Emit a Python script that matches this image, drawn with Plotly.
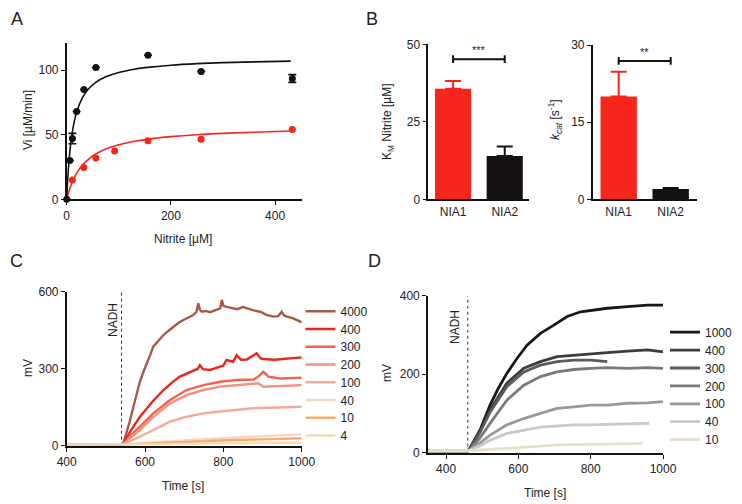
import plotly.graph_objects as go

# page body margin in the viewer offsets the figure by 8px; compensate
PAGE_W, PAGE_H = 742, 504
OFF = 8
W, H = PAGE_W - OFF, PAGE_H - OFF

# ---------------- Panel A data ----------------
a_black_x = [0, 6, 11, 19, 33, 56, 156, 258, 433]
a_black_y = [0, 30, 47, 68, 85, 102, 111.5, 99, 93.5]
a_black_err = [0, 0, 4, 0, 0, 0, 0, 0, 3]
a_red_x = [11, 33, 56, 92, 156, 258, 433]
a_red_y = [15, 24.7, 32, 37.3, 45.3, 46.4, 54]
a_fit_black_x = [0, 2, 5, 10, 15, 20, 30, 40, 55, 75, 100, 130, 160, 200, 250, 300, 360, 430]
a_fit_black_y = [0, 15.7, 32.4, 50, 61.1, 68.8, 78.6, 84.6, 90.3, 94.8, 98.2, 100.7, 102.3, 103.8, 105, 105.8, 106.4, 107]
a_fit_red_x = [0, 5, 10, 20, 30, 45, 60, 80, 100, 130, 160, 200, 250, 300, 360, 430]
a_fit_red_y = [0, 7.1, 12.7, 20.7, 26.3, 32.1, 36, 39.7, 42.2, 44.9, 46.8, 48.5, 50, 51, 51.9, 52.9]

# ---------------- Panel B data ----------------
b_cats = ["NIA1", "NIA2"]
b_km = [35.7, 14.0]
b_km_err = [2.5, 3.0]
b_kcat = [20.0, 2.0]
b_kcat_err = [4.8, 0.2]
b_km_sig = 45.2
b_kcat_sig = 26.9
b_km_sig_text = "***"
b_kcat_sig_text = "**"

# ---------------- Panel C data ----------------
c_labels = ["4000", "400", "300", "200", "100", "40", "10", "4"]
c_t = [
    [400, 538, 545, 555, 562, 570, 579, 587, 596, 605, 613, 621, 634, 647, 660, 672, 685, 698, 710, 723, 731, 736, 740, 745, 755, 766, 780, 792, 796, 800, 809, 820, 835, 850, 860, 875, 894, 910, 928, 940, 949, 955, 962, 975, 990, 1000],
    [400, 540, 545, 562, 587, 604, 621, 647, 668, 689, 715, 735, 740, 748, 766, 791, 800, 808, 825, 834, 845, 860, 885, 895, 902, 930, 962, 1000],
    [400, 540, 545, 562, 587, 621, 664, 706, 749, 791, 834, 877, 889, 902, 915, 945, 1000],
    [400, 540, 545, 562, 587, 621, 664, 706, 749, 791, 834, 877, 889, 902, 945, 1000],
    [400, 540, 545, 587, 621, 664, 706, 749, 791, 834, 877, 919, 1000],
    [400, 540, 621, 791, 1000],
    [400, 540, 621, 791, 1000],
    [400, 540, 621, 791, 1000],
]
c_v = [
    [4, 4, 10, 60, 100, 150, 204, 250, 288, 320, 353, 386, 410, 431, 448, 464, 478, 490, 500, 509, 520, 555, 530, 522, 525, 520, 528, 535, 568, 545, 541, 538, 532, 540, 535, 528, 522, 510, 503, 505, 522, 508, 503, 498, 488, 480],
    [4, 4, 8, 55, 113, 146, 175, 217, 245, 269, 288, 300, 314, 298, 295, 308, 312, 334, 327, 353, 335, 336, 360, 340, 338, 335, 338, 344],
    [4, 4, 7, 38, 74, 126, 178, 217, 236, 249, 256, 258, 269, 288, 269, 262, 265],
    [4, 4, 6, 30, 61, 113, 165, 197, 217, 230, 236, 240, 243, 230, 233, 236],
    [4, 4, 5, 35, 61, 94, 113, 126, 133, 139, 146, 148, 152],
    [4, 4, 13, 29, 44],
    [4, 4, 9, 20, 29],
    [4, 4, 5, 9, 12],
]
c_colors = ["#A65A4A", "#E8261E", "#F2644C", "#F4907E", "#F5AA98", "#F8D4C8", "#F3AE6C", "#F6DAB8"]
c_nadh = 540

# ---------------- Panel D data ----------------
d_labels = ["1000", "400", "300", "200", "100", "40", "10"]
d_t = [
    [350, 460, 465, 494, 522, 545, 568, 596, 624, 661, 698, 735, 772, 809, 846, 902, 957, 1000],
    [350, 460, 465, 494, 522, 568, 615, 661, 707, 754, 800, 846, 902, 957, 1000],
    [350, 460, 465, 494, 522, 568, 615, 661, 707, 754, 800, 846],
    [350, 460, 465, 494, 522, 568, 615, 661, 707, 754, 800, 846, 902, 957, 1000],
    [350, 460, 465, 494, 522, 568, 615, 661, 707, 754, 800, 846, 902, 957, 1000],
    [350, 460, 465, 494, 522, 568, 615, 661, 707, 754, 800, 846, 902, 962],
    [350, 460, 568, 707, 846, 943],
]
d_v = [
    [5, 5, 10, 58, 122, 165, 202, 240, 274, 304, 325, 347, 359, 364, 368, 372, 376, 376],
    [5, 5, 9, 55, 109, 177, 215, 232, 245, 249, 253, 255, 259, 262, 257],
    [5, 5, 9, 52, 104, 168, 206, 223, 232, 236, 236, 232],
    [5, 5, 7, 38, 75, 134, 172, 194, 206, 212, 215, 217, 215, 217, 215],
    [5, 5, 6, 25, 45, 71, 87, 100, 113, 117, 121, 121, 126, 127, 130],
    [5, 5, 6, 18, 32, 49, 58, 65, 68, 71, 71, 72, 75, 75],
    [5, 5, 11, 20, 22, 24],
]
d_colors = ["#1B1715", "#3D3B3B", "#5C5A5A", "#7B7979", "#9A9898", "#C9C9C9", "#E6E1C6"]
d_nadh = 460

RED = "#F6261C"
BLACK = "#141010"
FONT = "Liberation Sans, Arial, sans-serif"


def px(x):
    return (x - OFF) / W


def py(y):
    return 1 - (y - OFF) / H


fig = go.Figure()

# ---- Panel A ----
fig.add_trace(go.Scatter(x=a_fit_red_x, y=a_fit_red_y, mode="lines", line=dict(color=RED, width=1.6, shape="spline"),
                         xaxis="x", yaxis="y", showlegend=False, hoverinfo="skip"))
fig.add_trace(go.Scatter(x=a_fit_black_x, y=a_fit_black_y, mode="lines", line=dict(color=BLACK, width=1.6, shape="spline"),
                         xaxis="x", yaxis="y", showlegend=False, hoverinfo="skip"))
fig.add_trace(go.Scatter(x=a_red_x, y=a_red_y, mode="markers", marker=dict(color=RED, size=7),
                         xaxis="x", yaxis="y", showlegend=False, cliponaxis=False))
fig.add_trace(go.Scatter(x=a_black_x, y=a_black_y, mode="markers", marker=dict(color=BLACK, size=7),
                         error_y=dict(type="data", array=a_black_err, color=BLACK, thickness=1.6, width=4),
                         xaxis="x", yaxis="y", showlegend=False, cliponaxis=False))

# ---- Panel B ----
for i, (cat, col) in enumerate(zip(b_cats, [RED, BLACK])):
    fig.add_trace(go.Bar(x=[i], y=[b_km[i]], width=0.7, marker=dict(color=col, line=dict(width=0)),
                         error_y=dict(type="data", array=[b_km_err[i]], arrayminus=[0], symmetric=False,
                                      color=col, thickness=2, width=8),
                         xaxis="x2", yaxis="y2", showlegend=False))
    fig.add_trace(go.Bar(x=[i], y=[b_kcat[i]], width=0.7, marker=dict(color=col, line=dict(width=0)),
                         error_y=dict(type="data", array=[b_kcat_err[i]], arrayminus=[0], symmetric=False,
                                      color=col, thickness=2, width=8),
                         xaxis="x3", yaxis="y3", showlegend=False))

for sig, rng, xa, ya in [(b_km_sig, 50, "x2", "y2"), (b_kcat_sig, 30, "x3", "y3")]:
    cap = rng * 0.025
    fig.add_trace(go.Scatter(x=[0, 0, None, 0, 1, None, 1, 1],
                             y=[sig - cap, sig + cap, None, sig, sig, None, sig - cap, sig + cap],
                             mode="lines", line=dict(color=BLACK, width=2), xaxis=xa, yaxis=ya,
                             showlegend=False, hoverinfo="skip"))

# ---- legends: one small legend per entry so the rows match the reference spacing ----
legends = {}
leg_n = [0]


def new_legend(text_x, center_y):
    leg_n[0] += 1
    key = "legend" if leg_n[0] == 1 else f"legend{leg_n[0]}"
    legends[key] = dict(x=px(text_x - 40), y=py(center_y - 14), xanchor="left", yanchor="top",
                        bgcolor="rgba(0,0,0,0)", font=dict(family=FONT, size=12, color="#222"))
    return key


# ---- Panel C ----
fig.add_trace(go.Scatter(x=[c_nadh, c_nadh], y=[0, 600], mode="lines", line=dict(color="#333", width=1, dash="dot"),
                         xaxis="x4", yaxis="y4", showlegend=False, hoverinfo="skip"))
for i, (lab, t, v, col) in enumerate(zip(c_labels, c_t, c_v, c_colors)):
    key = new_legend(340.5, 310.7 + i * 17.75)
    fig.add_trace(go.Scatter(x=t, y=v, mode="lines", name=lab, line=dict(color=col, width=2.4),
                             xaxis="x4", yaxis="y4", legend=key))

# ---- Panel D ----
fig.add_trace(go.Scatter(x=[d_nadh, d_nadh], y=[0, 400], mode="lines", line=dict(color="#333", width=1, dash="dot"),
                         xaxis="x5", yaxis="y5", showlegend=False, hoverinfo="skip"))
for i, (lab, t, v, col) in enumerate(zip(d_labels, d_t, d_v, d_colors)):
    key = new_legend(705, 331.7 + i * 17.9)
    fig.add_trace(go.Scatter(x=t, y=v, mode="lines", name=lab, line=dict(color=col, width=2.8),
                             xaxis="x5", yaxis="y5", legend=key))


def xax(dom, rng, anchor, **kw):
    d = dict(domain=[px(dom[0]), px(dom[1])], range=rng, anchor=anchor, showline=True, linecolor="#111",
             linewidth=1.6, ticks="outside", ticklen=4, tickwidth=1.4, tickcolor="#111", showgrid=False,
             zeroline=False, tickfont=dict(family=FONT, size=12, color="#222"), automargin=False)
    d.update(kw)
    return d


def yax(dom, rng, anchor, **kw):
    d = dict(domain=[py(dom[1]), py(dom[0])], range=rng, anchor=anchor, showline=True, linecolor="#111",
             linewidth=1.6, ticks="outside", ticklen=4, tickwidth=1.4, tickcolor="#111", showgrid=False,
             zeroline=False, tickfont=dict(family=FONT, size=12, color="#222"), automargin=False)
    d.update(kw)
    return d


ann = []


def text(x, y, s, size=12, angle=0, **kw):
    d = dict(x=px(x), y=py(y), xref="paper", yref="paper", text=s, showarrow=False, textangle=angle,
             font=dict(family=FONT, size=size, color="#222"), xanchor="center", yanchor="middle")
    d.update(kw)
    ann.append(d)


text(17, 8.5, "A", size=18, yanchor="top", borderpad=0)
text(372, 8.5, "B", size=18, yanchor="top", borderpad=0)
text(16, 261, "C", size=18)
text(374, 261, "D", size=18)
text(28, 120, "Vi [µM/min]", angle=-90)
text(183, 239, "Nitrite [µM]")
text(388, 122, "K<sub>M</sub> Nitrite [µM]", angle=-90)
text(555, 120, "<i>k</i><sub><i>cat</i></sub> [s<sup>-1</sup>]", angle=-90)
text(28, 368, "mV", angle=-90)
text(183, 486, "Time [s]")
text(387, 373, "mV", angle=-90)
text(545, 493, "Time [s]")
text(113, 320, "NADH", angle=-90)
text(455, 327, "NADH", angle=-90)

ann.append(dict(x=0.5, y=b_km_sig, xref="x2", yref="y2", text=b_km_sig_text, showarrow=False, yanchor="bottom",
                yshift=1, font=dict(family=FONT, size=11, color="#222")))
ann.append(dict(x=0.5, y=b_kcat_sig, xref="x3", yref="y3", text=b_kcat_sig_text, showarrow=False, yanchor="bottom",
                yshift=1, font=dict(family=FONT, size=11, color="#222")))

fig.update_layout(
    width=W, height=H, margin=dict(l=0, r=0, t=0, b=0, autoexpand=False), paper_bgcolor="white",
    plot_bgcolor="white",
    barmode="overlay",
    xaxis=xax((66.7, 301.7), [0, 451], "y", tickvals=[0, 200, 400]),
    yaxis=yax((43, 199.3), [0, 121], "x", tickvals=[0, 50, 100]),
    xaxis2=xax((428.3, 529), [-0.48, 1.47], "y2", tickvals=[0, 1], ticktext=b_cats, ticks=""),
    yaxis2=yax((44.3, 199.3), [0, 50], "x2", tickvals=[0, 25, 50]),
    xaxis3=xax((592.7, 696.7), [-0.5, 1.5], "y3", tickvals=[0, 1], ticktext=b_cats, ticks=""),
    yaxis3=yax((45, 199.3), [0, 30], "x3", tickvals=[0, 15, 30]),
    xaxis4=xax((66.7, 301.7), [400, 1000], "y4", tickvals=[400, 600, 800, 1000]),
    yaxis4=yax((291.7, 445.7), [0, 600], "x4", tickvals=[0, 300, 600]),
    xaxis5=xax((428, 663), [350, 1000], "y5", tickvals=[400, 600, 800, 1000]),
    yaxis5=yax((295.7, 452.7), [0, 400], "x5", tickvals=[0, 200, 400]),
    annotations=ann,
    **legends,
)

fig.write_html("out.html")
